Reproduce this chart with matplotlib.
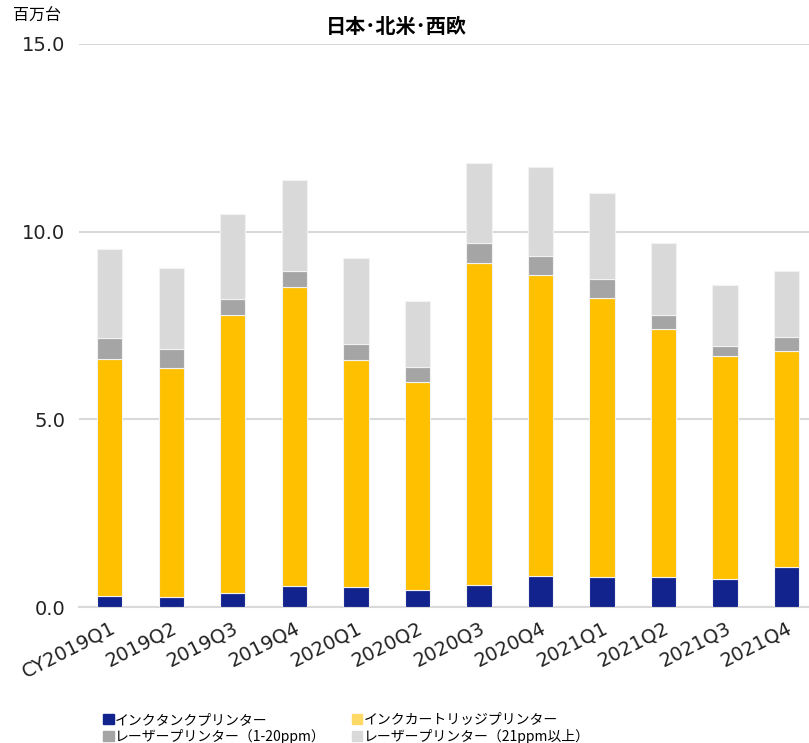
import matplotlib.pyplot as plt
import matplotlib.patches as mpatches
import numpy as np

plt.rcParams['font.family'] = ['Noto Sans CJK JP', 'DejaVu Sans']

quarters = ['CY2019Q1', '2019Q2', '2019Q3', '2019Q4', '2020Q1', '2020Q2',
            '2020Q3', '2020Q4', '2021Q1', '2021Q2', '2021Q3', '2021Q4']
# 百万台
ink_tank = [0.29, 0.27, 0.37, 0.56, 0.53, 0.45, 0.59, 0.83, 0.80, 0.80, 0.75, 1.07]
ink_cartridge = [6.32, 6.10, 7.41, 7.97, 6.05, 5.55, 8.58, 8.02, 7.43, 6.61, 5.94, 5.75]
laser_small = [0.56, 0.50, 0.43, 0.42, 0.43, 0.39, 0.53, 0.50, 0.51, 0.37, 0.26, 0.37]
laser_large = [2.37, 2.16, 2.26, 2.43, 2.29, 1.76, 2.13, 2.37, 2.29, 1.92, 1.63, 1.76]

names = ['インクタンクプリンター', 'インクカートリッジプリンター',
         'レーザープリンター（1-20ppm）', 'レーザープリンター（21ppm以上）']
colors = ['#12238e', '#ffc000', '#a5a5a5', '#d9d9d9']

fig = plt.figure(figsize=(8.09, 7.43), dpi=100)
ax = fig.add_axes([0.0977, 0.183, 0.905, 0.758])

x = np.arange(len(quarters))
bottom = np.zeros(len(quarters))
for vals, c in zip([ink_tank, ink_cartridge, laser_small, laser_large], colors):
    ax.bar(x, vals, 0.41, bottom=bottom, color=c, edgecolor='#f2f2f2',
           linewidth=0.8, zorder=3)
    bottom += np.array(vals)

latin = ['DejaVu Sans', 'Noto Sans CJK JP']
ax.set_ylim(0, 15)
ax.set_xlim(-0.5, 11.4)
ax.set_yticks([0, 5, 10, 15])
ax.set_yticklabels(['0.0', '5.0', '10.0', '15.0'], fontsize=14, family=latin,
                   color='#222222')
ax.yaxis.grid(True, color='#d9d9d9', linewidth=1.5, zorder=0)
ax.set_xticks(x)
ax.set_xticklabels(quarters, rotation=27, ha='right', rotation_mode='anchor',
                   fontsize=14, family=latin, color='#222222')
ax.tick_params(axis='y', length=0, pad=10)
ax.tick_params(axis='x', length=0, pad=8)
for s in ['top', 'right', 'left']:
    ax.spines[s].set_visible(False)
ax.spines['bottom'].set_color('#d9d9d9')
ax.spines['bottom'].set_linewidth(1.5)

fig.text(0.49, 0.965, '日本･北米･西欧', ha='center', va='center',
         fontsize=14.5, fontweight='bold')
fig.text(0.046, 0.978, '百万台', ha='center', va='center', fontsize=11.5)

leg_colors = ['#12238e', '#ffd966', '#a5a5a5', '#d9d9d9']
handles = [mpatches.Patch(color=c, label=n) for c, n in zip(leg_colors, names)]
order = [0, 2, 1, 3]
fig.legend([handles[i] for i in order], [names[i] for i in order],
           loc='lower left', bbox_to_anchor=(0.112, -0.018), ncol=2,
           frameon=False, fontsize=10, handlelength=0.75, handleheight=0.75,
           handletextpad=0.1, columnspacing=1.9, labelspacing=0.15)

fig.savefig('out.png', dpi=100)
